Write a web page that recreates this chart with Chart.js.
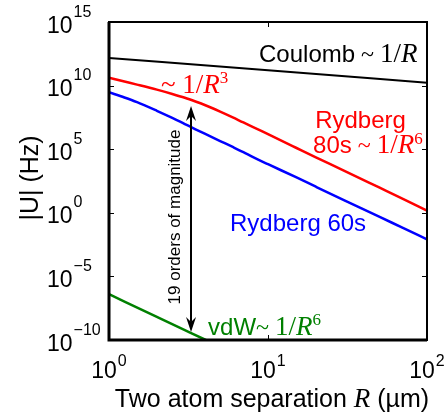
<!DOCTYPE html>
<html>
<head>
<meta charset="utf-8">
<script src="https://cdn.jsdelivr.net/npm/chart.js@4.4.0/dist/chart.umd.min.js"></script>
<style>
body { margin: 0; background: #fff; }
#wrap { width: 446px; height: 417px; }
</style>
</head>
<body>
<div id="wrap"><canvas id="chart"></canvas></div>
<script>
// separation R (um) shared by both Rydberg curves, |U| in Hz
var R = [1, 1.25, 1.5, 2, 2.5, 3, 3.5, 4, 5, 6, 7, 8, 10, 15, 20, 30, 50, 70, 100];
var ryd80 = [4.2e10, 2.1e10, 1.2e10, 4.8e9, 2.2e9, 1.1e9, 5.6e8, 3.0e8, 9.1e7, 3.2e7, 1.26e7, 5.8e6, 1.5e6, 1.3e5, 2.3e4, 2.1e3, 98, 13, 1.5];
var ryd60 = [3.0e9, 1.17e9, 5.0e8, 1.05e8, 2.9e7, 9.5e6, 3.7e6, 1.66e6, 4.4e5, 1.5e5, 5.9e4, 2.5e4, 6.6e3, 630, 112, 10, 0.5, 0.068, 0.0083];
var coulombR = [1, 10, 100];
var coulomb = [1.5e12, 1.6e11, 1.7e10];
var vdwR = [1, 2, 3, 4, 5];
var vdw = [4e-7, 6.6e-9, 6e-10, 1.1e-10, 3e-11];
var xTickExp = [0, 1, 2];
var yTickExp = [15, 10, 5, 0, -5, -10];

var SANS = '"Liberation Sans", Arial, sans-serif';
var SERIF = '"Liberation Serif", "Times New Roman", serif';

// text labels placed in data coordinates (left edge, baseline)
var notes = [
    { x: 8.78, y: 7.2e11, color: '#000', runs: [
        { t: 'Coulomb', f: '24px ' + SANS }, { t: ' ~ ', f: '24px ' + SERIF },
        { t: '1/', f: '27px ' + SERIF }, { t: 'R', f: 'italic 27px ' + SERIF }] },
    { x: 2.12, y: 2.6e9, color: '#ff0000', runs: [
        { t: '~ ', f: '27px ' + SERIF }, { t: '1/', f: '27px ' + SERIF },
        { t: 'R', f: 'italic 27px ' + SERIF }, { t: '3', f: '17px ' + SERIF, dy: -10 }] },
    { x: 19.8, y: 4.6e6, color: '#ff0000', runs: [{ t: 'Rydberg', f: '24px ' + SANS }] },
    { x: 19.2, y: 5e4, color: '#ff0000', runs: [
        { t: '80s', f: '24px ' + SANS }, { t: ' ~ ', f: '24px ' + SERIF },
        { t: '1/', f: '27px ' + SERIF }, { t: 'R', f: 'italic 27px ' + SERIF },
        { t: '6', f: '17px ' + SERIF, dy: -9 }] },
    { x: 5.77, y: 3.7e-2, color: '#0000ff', runs: [{ t: 'Rydberg 60s', f: '24px ' + SANS }] },
    { x: 4.2, y: 2.5e-10, color: '#008000', runs: [
        { t: 'vdW', f: '24px ' + SANS }, { t: '~ ', f: '24px ' + SERIF },
        { t: '1/', f: '27px ' + SERIF }, { t: 'R', f: 'italic 27px ' + SERIF },
        { t: '6', f: '17px ' + SERIF, dy: -10 }] }
];
var arrowR = 3.28, arrowTop = 2.5e8, arrowBottom = 4.3e-10;
var arrowText = '19 orders of magnitude', arrowTextR = 2.56, arrowTextU = 0.47;

function pts(xs, ys) {
    return xs.map(function (x, i) { return { x: x, y: ys[i] }; });
}

function drawRuns(ctx, x, y, runs, color) {
    ctx.fillStyle = color;
    ctx.textAlign = 'left';
    ctx.textBaseline = 'alphabetic';
    runs.forEach(function (r) {
        ctx.font = r.f;
        ctx.fillText(r.t, x, y + (r.dy || 0));
        x += ctx.measureText(r.t).width;
    });
}

function expText(e) {
    return e < 0 ? '\u2212' + (-e) : String(e);
}

function arrowHead(ctx, x, y, dir) {
    // dir = 1 points down, -1 points up
    ctx.beginPath();
    ctx.moveTo(x, y);
    ctx.lineTo(x - 5, y - dir * 15);
    ctx.lineTo(x, y - dir * 10);
    ctx.lineTo(x + 5, y - dir * 15);
    ctx.closePath();
    ctx.fill();
}

var decor = {
    id: 'decor',
    afterDraw: function (chart) {
        var ctx = chart.ctx, a = chart.chartArea;
        var xs = chart.scales.x, ys = chart.scales.y;
        ctx.save();

        // arrow
        var ax = xs.getPixelForValue(arrowR);
        var at = ys.getPixelForValue(arrowTop), ab = ys.getPixelForValue(arrowBottom);
        ctx.strokeStyle = '#000';
        ctx.fillStyle = '#000';
        ctx.lineWidth = 2;
        ctx.beginPath();
        ctx.moveTo(ax, at + 10);
        ctx.lineTo(ax, ab - 10);
        ctx.stroke();
        arrowHead(ctx, ax, at, -1);
        arrowHead(ctx, ax, ab, 1);

        ctx.save();
        ctx.translate(xs.getPixelForValue(arrowTextR) + 6, ys.getPixelForValue(arrowTextU));
        ctx.rotate(-Math.PI / 2);
        ctx.font = '17px ' + SANS;
        ctx.textAlign = 'center';
        ctx.textBaseline = 'alphabetic';
        ctx.fillText(arrowText, 0, 0);
        ctx.restore();

        notes.forEach(function (n) {
            drawRuns(ctx, xs.getPixelForValue(n.x), ys.getPixelForValue(n.y), n.runs, n.color);
        });

        // frame
        ctx.strokeStyle = '#000';
        ctx.lineWidth = 2;
        ctx.strokeRect(a.left, a.top, a.right - a.left, a.bottom - a.top);
        ctx.lineWidth = 3;
        ctx.beginPath();
        ctx.moveTo(a.left, a.top);
        ctx.lineTo(a.left, a.bottom);
        ctx.lineTo(a.right, a.bottom);
        ctx.stroke();

        // inward ticks
        ctx.lineWidth = 1;
        ctx.beginPath();
        yTickExp.forEach(function (e) {
            var py = Math.round(ys.getPixelForValue(Math.pow(10, e))) + 0.5;
            ctx.moveTo(a.left, py); ctx.lineTo(a.left + 5, py);
            ctx.moveTo(a.right, py); ctx.lineTo(a.right - 5, py);
        });
        xTickExp.forEach(function (e) {
            var px = Math.round(xs.getPixelForValue(Math.pow(10, e))) + 0.5;
            ctx.moveTo(px, a.bottom); ctx.lineTo(px, a.bottom - 5);
            ctx.moveTo(px, a.top); ctx.lineTo(px, a.top + 5);
        });
        ctx.stroke();

        // tick labels
        ctx.fillStyle = '#000';
        ctx.textAlign = 'left';
        ctx.textBaseline = 'alphabetic';
        yTickExp.forEach(function (e) {
            var py = ys.getPixelForValue(Math.pow(10, e));
            ctx.font = '23px ' + SANS;
            ctx.fillText('10', a.left - 62, py + 10.5);
            var w = ctx.measureText('10').width;
            ctx.font = '16px ' + SANS;
            ctx.fillText(expText(e), a.left - 62 + w + 1, py - 5.5);
        });
        xTickExp.forEach(function (e) {
            var px = xs.getPixelForValue(Math.pow(10, e));
            ctx.font = '23px ' + SANS;
            var w1 = ctx.measureText('10').width;
            ctx.font = '16px ' + SANS;
            var w2 = ctx.measureText(expText(e)).width;
            var x0 = px - (w1 + 1 + w2) / 2;
            ctx.font = '23px ' + SANS;
            ctx.fillText('10', x0, a.bottom + 38);
            ctx.font = '16px ' + SANS;
            ctx.fillText(expText(e), x0 + w1 + 1, a.bottom + 26);
        });

        // axis titles
        var xt = [
            { t: 'Two atom separation ', f: '25px ' + SANS },
            { t: 'R', f: 'italic 27px ' + SERIF },
            { t: ' (\u00b5m)', f: '25px ' + SANS }
        ];
        var tw = 0;
        xt.forEach(function (r) { ctx.font = r.f; tw += ctx.measureText(r.t).width; });
        drawRuns(ctx, (a.left + a.right) / 2 + 4 - tw / 2, a.bottom + 67, xt, '#000');

        ctx.save();
        ctx.translate(a.left - 71, (a.top + a.bottom) / 2 - 3);
        ctx.rotate(-Math.PI / 2);
        ctx.font = '25px ' + SANS;
        ctx.textAlign = 'center';
        ctx.fillStyle = '#000';
        ctx.fillText('|U| (Hz)', 0, 0);
        ctx.restore();

        ctx.restore();
    }
};

new Chart(document.getElementById('chart'), {
    type: 'line',
    data: {
        datasets: [{
            label: 'Coulomb',
            data: pts(coulombR, coulomb),
            borderColor: '#000000',
            borderWidth: 2
        }, {
            label: 'Rydberg 80s',
            data: pts(R, ryd80),
            borderColor: '#ff0000',
            borderWidth: 2.5
        }, {
            label: 'Rydberg 60s',
            data: pts(R, ryd60),
            borderColor: '#0000ff',
            borderWidth: 2.5
        }, {
            label: 'vdW',
            data: pts(vdwR, vdw),
            borderColor: '#008000',
            borderWidth: 2.5
        }]
    },
    options: {
        responsive: true,
        maintainAspectRatio: false,
        animation: false,
        events: [],
        layout: { padding: { left: 109, top: 22, right: 19, bottom: 77 } },
        elements: {
            point: { radius: 0 },
            line: { cubicInterpolationMode: 'monotone', fill: false }
        },
        plugins: {
            legend: { display: false },
            tooltip: { enabled: false }
        },
        scales: {
            x: { type: 'logarithmic', min: 1, max: 100, display: false },
            y: { type: 'logarithmic', min: 1e-10, max: 1e15, display: false }
        }
    },
    plugins: [decor]
});
</script>
</body>
</html>
